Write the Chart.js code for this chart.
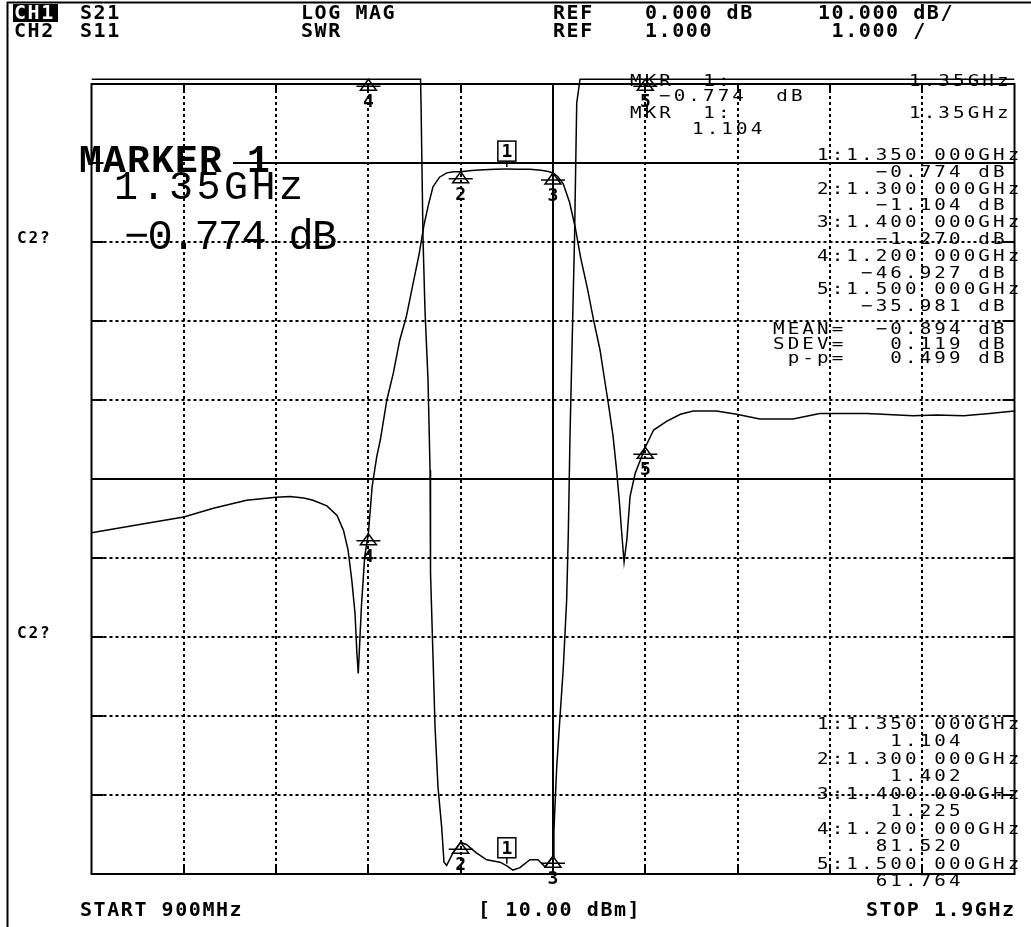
<!DOCTYPE html>
<html>
<head>
<meta charset="utf-8">
<script src="https://cdn.jsdelivr.net/npm/chart.js@4.4.1/dist/chart.umd.min.js"></script>
<style>
html, body { margin: 0; padding: 0; background: #fff; }
canvas { display: block; }
</style>
</head>
<body>
<canvas id="vna" width="1031" height="927"></canvas>
<script>
// CH1 S21, log mag in dB, against frequency in MHz
const s21Freq = [900, 930, 960, 1000, 1032, 1068, 1100, 1115, 1130, 1140, 1155, 1166, 1173, 1178, 1182,
  1185.5, 1187.5, 1189, 1190.5, 1192.5, 1196, 1200, 1204, 1209, 1213, 1220, 1227, 1234, 1241, 1248,
  1255, 1260, 1265, 1270, 1277, 1285, 1292, 1300, 1312, 1325, 1337, 1350, 1362, 1375, 1387, 1395,
  1400, 1405, 1411, 1418, 1424, 1430, 1437, 1444, 1451, 1456, 1460, 1465, 1469, 1472, 1474.5, 1477,
  1480, 1483.5, 1489, 1500, 1509, 1523, 1538, 1552, 1577, 1599, 1624, 1660, 1689, 1740, 1790, 1816,
  1845, 1873, 1900];
const s21Db = [-46.8, -46.2, -45.6, -44.8, -43.7, -42.7, -42.3, -42.2, -42.4, -42.7, -43.4, -44.6, -46.5, -49.0, -52.8,
  -57.0, -62.0, -64.6, -61.0, -56.0, -49.8, -46.9, -41.0, -37.2, -35.0, -30.0, -26.6, -22.4, -19.5, -15.5,
  -11.5, -8.0, -5.3, -3.0, -1.8, -1.25, -1.12, -1.104, -0.95, -0.85, -0.79, -0.774, -0.78, -0.80, -0.92, -1.08,
  -1.27, -1.7, -2.6, -5.0, -8.1, -12.0, -15.7, -19.9, -23.7, -27.5, -30.5, -34.5, -39.0, -43.0, -46.9, -50.5,
  -47.7, -42.2, -39.3, -35.98, -33.8, -32.7, -31.8, -31.4, -31.4, -31.8, -32.4, -32.4, -31.7, -31.7, -32.0, -31.9,
  -32.0, -31.7, -31.4];

// CH2 S11 as SWR; 11.06 is where the trace is held at the top of the screen
const swrFreq = [900, 1256.5, 1257, 1259.2, 1261.3, 1264.6, 1266.8, 1267.1, 1267.5, 1270, 1272.2, 1275.4,
  1279.4, 1281.9, 1284.8, 1291.7, 1300, 1306.5, 1316.6, 1328.2, 1342.6, 1350, 1356.6, 1364.2, 1375,
  1383.7, 1391.3, 1400, 1401, 1404, 1407.6, 1411.2, 1414.8, 1416.6, 1418.4, 1421.3, 1423.3, 1425.7,
  1429.3, 1900];
const swrVal = [11.06, 11.06, 10.77, 9.03, 8.14, 7.25, 6.11, 5.73, 4.81, 3.75, 2.86, 2.10,
  1.59, 1.15, 1.11, 1.27, 1.402, 1.37, 1.27, 1.18, 1.15, 1.104, 1.05, 1.08, 1.18,
  1.18, 1.09, 1.225, 1.55, 2.35, 2.99, 3.62, 4.47, 5.32, 6.53, 8.01, 9.03, 10.76,
  11.06, 11.06];
const swrTop = 11.06;

// markers 1..5
const mkrFreq = [1350, 1300, 1400, 1200, 1500];
const mkrS21 = [-0.774, -1.104, -1.270, -46.927, -35.981];
const mkrSwr = [1.104, 1.402, 1.225, 81.520, 61.764];
const statLabels = ["MEAN=", "SDEV=", "p-p="];
const statValues = [-0.894, 0.119, 0.499];

// grid divisions
const xTicks = [900, 1000, 1100, 1200, 1300, 1400, 1500, 1600, 1700, 1800, 1900];
const dbTicks = [10, 0, -10, -20, -30, -40, -50, -60, -70, -80, -90];
const centerFreq = 1400;
const centerDb = -40;
const refDb = 0;

const BOLD = 'bold 20px "DejaVu Sans Mono"';
const SMALLBOLD = 'bold 16px "DejaVu Sans Mono"';
const THIN = '16px "DejaVu Sans Mono"';
const NUM = 'bold 18px "DejaVu Sans Mono"';
const HADV = 13.6;

function mono(ctx, str, x, y, adv, font, sx, color) {
    ctx.font = font;
    ctx.fillStyle = color || "#000";
    ctx.textAlign = "left";
    ctx.textBaseline = "alphabetic";
    for (let i = 0; i < str.length; i++) {
        let ch = str[i];
        if (ch === " ") continue;
        ctx.save();
        ctx.translate(x + i * adv, y);
        ctx.scale(sx || 1, 1);
        ctx.fillText(ch, 0, 0);
        ctx.restore();
    }
}

function fmtVal(v, width) {
    return v.toFixed(3).replace("-", "\u2212").padStart(width);
}

function line(ctx, x1, y1, x2, y2) {
    ctx.beginPath();
    ctx.moveTo(x1, y1);
    ctx.lineTo(x2, y2);
    ctx.stroke();
}

function triangle(ctx, x, y) {
    ctx.beginPath();
    ctx.moveTo(x, y);
    ctx.lineTo(x - 8, y + 11);
    ctx.lineTo(x + 8, y + 11);
    ctx.closePath();
    ctx.stroke();
    line(ctx, x - 12, y + 7, x + 12, y + 7);
}

const screenPlugin = {
    id: "screen",
    beforeDraw(chart) {
        const ctx = chart.ctx;
        ctx.save();
        ctx.fillStyle = "#fff";
        ctx.fillRect(0, 0, chart.width, chart.height);
        ctx.restore();
    },
    beforeDatasetsDraw(chart) {
        const ctx = chart.ctx;
        const a = chart.chartArea;
        const x = chart.scales.x, y = chart.scales.y;
        ctx.save();
        ctx.strokeStyle = "#000";

        // dotted grid
        ctx.lineWidth = 2;
        ctx.setLineDash([3, 3]);
        xTicks.slice(1, -1).forEach(f => {
            if (f === centerFreq) return;
            let px = Math.round(x.getPixelForValue(f));
            line(ctx, px, a.top, px, a.bottom);
        });
        dbTicks.slice(1, -1).forEach(d => {
            if (d === centerDb || d === refDb) return;
            let py = Math.round(y.getPixelForValue(d));
            line(ctx, a.left, py, a.right, py);
        });
        ctx.setLineDash([]);

        // solid centre lines, reference line and short edge ticks
        let cx = Math.round(x.getPixelForValue(centerFreq));
        let cy = Math.round(y.getPixelForValue(centerDb));
        let ry = Math.round(y.getPixelForValue(refDb));
        line(ctx, cx, a.top, cx, a.bottom);
        line(ctx, a.left, cy, a.right, cy);
        line(ctx, 233, ry, a.right, ry);
        xTicks.slice(1, -1).forEach(f => {
            let px = Math.round(x.getPixelForValue(f));
            line(ctx, px, a.bottom, px, a.bottom - 10);
            line(ctx, px, a.top, px, a.top + 6);
        });
        dbTicks.slice(1, -1).forEach(d => {
            let py = Math.round(y.getPixelForValue(d));
            line(ctx, a.left, py, a.left + 12, py);
            line(ctx, a.right, py, a.right - 12, py);
        });

        // frame
        ctx.strokeRect(a.left, a.top, a.right - a.left, a.bottom - a.top);
        line(ctx, 7.5, 2, 7.5, chart.height);
        line(ctx, 7, 2.5, chart.width, 2.5);
        ctx.restore();
    },
    afterDatasetsDraw(chart) {
        const ctx = chart.ctx;
        const x = chart.scales.x, y = chart.scales.y, y2 = chart.scales.y2;
        ctx.save();
        ctx.strokeStyle = "#000";
        ctx.lineWidth = 1.5;

        // markers on both traces
        mkrFreq.forEach((f, i) => {
            let px = x.getPixelForValue(f);
            let pts = [y.getPixelForValue(mkrS21[i]), y2.getPixelForValue(Math.min(mkrSwr[i], swrTop))];
            pts.forEach(py => {
                ctx.font = NUM;
                ctx.fillStyle = "#000";
                ctx.textAlign = "center";
                if (i === 0) {
                    ctx.fillStyle = "#fff";
                    ctx.fillRect(px - 9, py - 28, 18, 20);
                    ctx.strokeRect(px - 9, py - 28, 18, 20);
                    line(ctx, px, py - 8, px, py - 2);
                    ctx.fillStyle = "#000";
                    ctx.fillText(String(i + 1), px, py - 12);
                } else {
                    triangle(ctx, px, py);
                    ctx.fillText(String(i + 1), px, py + 28);
                }
            });
        });

        // header
        ctx.fillStyle = "#000";
        ctx.fillRect(13, 4, 45, 18);
        mono(ctx, "CH1", 14, 19, HADV, BOLD, 1, "#fff");
        mono(ctx, "S21", 80, 19, HADV, BOLD);
        mono(ctx, "LOG MAG", 301, 19, HADV, BOLD);
        mono(ctx, "REF", 553, 19, HADV, BOLD);
        mono(ctx, "0.000 dB", 645, 19, HADV, BOLD);
        mono(ctx, "10.000 dB/", 818, 19, HADV, BOLD);
        mono(ctx, "CH2", 14, 37, HADV, BOLD);
        mono(ctx, "S11", 80, 37, HADV, BOLD);
        mono(ctx, "SWR", 301, 37, HADV, BOLD);
        mono(ctx, "REF", 553, 37, HADV, BOLD);
        mono(ctx, "1.000", 645, 37, HADV, BOLD);
        mono(ctx, " 1.000 /", 818, 37, HADV, BOLD);

        mono(ctx, "C2?", 17, 243, 11.5, SMALLBOLD);
        mono(ctx, "C2?", 17, 638, 11.5, SMALLBOLD);

        mono(ctx, "START 900MHz", 80, 916, HADV, BOLD);
        mono(ctx, "[ 10.00 dBm]", 478, 916, HADV, BOLD);
        mono(ctx, "STOP 1.9GHz", 866, 916, HADV, BOLD);

        // active marker, large text
        mono(ctx, "MARKER 1", 79, 172, 24, 'bold 38px "Liberation Mono"');
        mono(ctx, (mkrFreq[0] / 1000).toFixed(2) + "GHz", 114, 199, 27.5, '40px "Liberation Mono"');
        mono(ctx, fmtVal(mkrS21[0], 0) + " dB", 124, 249, 23.5, '42px "Liberation Mono"');

        // active marker readout, top
        const adv = 14.67;
        mono(ctx, "MKR  1:", 630, 86, adv, THIN, 1.2);
        mono(ctx, (mkrFreq[0] / 1000).toFixed(2) + "GHz", 909, 86, adv, THIN, 1.2);
        mono(ctx, fmtVal(mkrS21[0], 0) + "  dB", 659, 101, adv, THIN, 1.2);
        mono(ctx, "MKR  1:", 630, 118, adv, THIN, 1.2);
        mono(ctx, (mkrFreq[0] / 1000).toFixed(2) + "GHz", 909, 118, adv, THIN, 1.2);
        mono(ctx, mkrSwr[0].toFixed(3), 692, 134, adv, THIN, 1.2);

        // marker list, CH1
        const col0 = 817;
        mkrFreq.forEach((f, i) => {
            let b = 160 + i * 2 * 16.8;
            mono(ctx, (i + 1) + ":" + (f / 1000).toFixed(3) + " 000GHz", col0, b, adv, THIN, 1.2);
            mono(ctx, fmtVal(mkrS21[i], 10) + " dB", col0, b + 16.8, adv, THIN, 1.2);
        });
        statLabels.forEach((lab, i) => {
            let b = 334 + i * 14.5;
            mono(ctx, lab.padStart(5) + fmtVal(statValues[i], 8) + " dB", col0 - 3 * adv, b, adv, THIN, 1.2);
        });

        // marker list, CH2
        mkrFreq.forEach((f, i) => {
            let b = 728.5 + i * 2 * 17.5;
            mono(ctx, (i + 1) + ":" + (f / 1000).toFixed(3) + " 000GHz", col0, b, adv, THIN, 1.2);
            mono(ctx, fmtVal(mkrSwr[i], 10), col0, b + 17.5, adv, THIN, 1.2);
        });
        ctx.restore();
    }
};

new Chart(document.getElementById("vna"), {
    type: "line",
    data: {
        datasets: [
            {
                label: "S21",
                data: s21Freq.map((f, i) => ({ x: f, y: s21Db[i] })),
                yAxisID: "y",
                borderColor: "#000",
                borderWidth: 1.5,
                pointRadius: 0,
                tension: 0
            },
            {
                label: "SWR",
                data: swrFreq.map((f, i) => ({ x: f, y: swrVal[i] })),
                yAxisID: "y2",
                borderColor: "#000",
                borderWidth: 1.5,
                pointRadius: 0,
                tension: 0,
                clip: { left: 0, top: 8, right: 0, bottom: 0 }
            }
        ]
    },
    options: {
        responsive: false,
        animation: false,
        devicePixelRatio: 1,
        layout: { padding: { left: 91.5, right: 16.5, top: 84, bottom: 53 } },
        plugins: { legend: { display: false }, tooltip: { enabled: false } },
        scales: {
            x: { type: "linear", min: 900, max: 1900, display: false },
            y: { type: "linear", min: -90, max: 10, display: false },
            y2: { type: "linear", min: 1, max: 11, display: false }
        }
    },
    plugins: [screenPlugin]
});
</script>
</body>
</html>
